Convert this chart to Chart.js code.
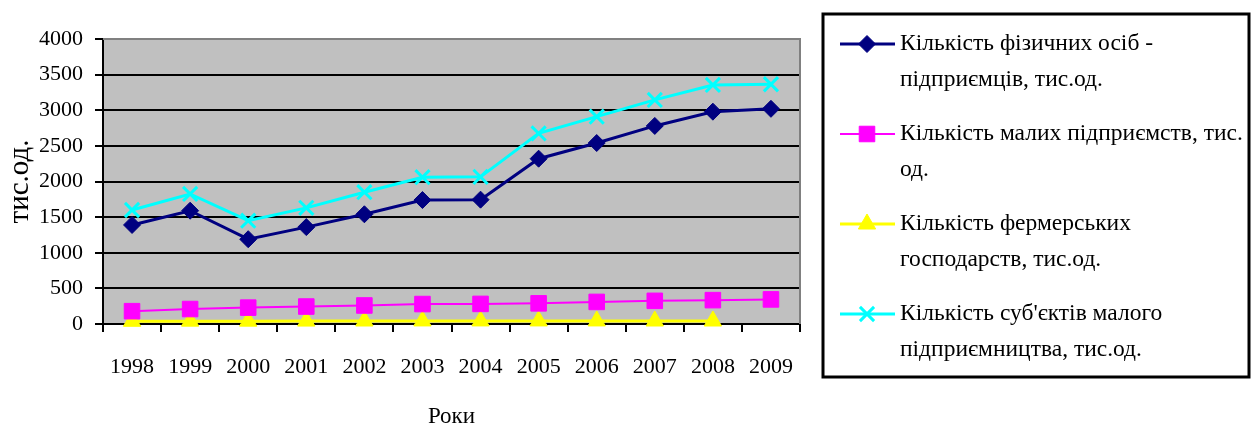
<!DOCTYPE html>
<html>
<head>
<meta charset="utf-8">
<script src="https://cdn.jsdelivr.net/npm/chart.js@4"></script>
<style>
  html, body { margin: 0; padding: 0; background: #fff; }
  #wrap { width: 1251px; height: 428px; }
</style>
</head>
<body>
<div id="wrap"><canvas id="chart" width="1251" height="428"></canvas></div>
<script>
// Data
const years = ["1998", "1999", "2000", "2001", "2002", "2003", "2004", "2005", "2006", "2007", "2008", "2009"];
const physicalPersons = [1390, 1590, 1190, 1360, 1540, 1740, 1745, 2320, 2540, 2780, 2980, 3020];
const smallEnterprises = [180, 210, 230, 245, 260, 280, 282, 290, 310, 325, 335, 345];
const farms = [38, 40, 40, 41, 42, 43, 43, 43, 43, 42, 42, null];
const smallBusiness = [1600, 1825, 1450, 1630, 1850, 2060, 2065, 2675, 2910, 3145, 3355, 3365];
const yTicks = [0, 500, 1000, 1500, 2000, 2500, 3000, 3500, 4000];

const legendLabels = [
  ["Кількість фізичних осіб -", "підприємців, тис.од."],
  ["Кількість малих підприємств, тис.", "од."],
  ["Кількість фермерських", "господарств, тис.од."],
  ["Кількість суб'єктів малого", "підприємництва, тис.од."]
];

const FONT = '"Liberation Serif", "Times New Roman", serif';
Chart.defaults.font.family = FONT;
Chart.defaults.font.size = 22;
Chart.defaults.color = "#000";

// gray plot background + gray top/right frame
const plotFrame = {
  id: "plotFrame",
  beforeDraw(chart) {
    const { ctx, chartArea: a } = chart;
    ctx.save();
    ctx.fillStyle = "#c0c0c0";
    ctx.fillRect(a.left, a.top, a.right - a.left, a.bottom - a.top);
    ctx.restore();
  },
  beforeDatasetsDraw(chart) {
    const { ctx, chartArea: a } = chart;
    ctx.save();
    ctx.strokeStyle = "#808080";
    ctx.lineWidth = 2;
    ctx.beginPath();
    ctx.moveTo(a.left, a.top);
    ctx.lineTo(a.right, a.top);
    ctx.lineTo(a.right, a.bottom);
    ctx.stroke();
    ctx.restore();
  }
};

// boxed legend with two-line labels
const boxLegend = {
  id: "boxLegend",
  afterDraw(chart) {
    const ctx = chart.ctx;
    ctx.save();
    ctx.strokeStyle = "#000";
    ctx.lineWidth = 3;
    ctx.strokeRect(823, 14, 426, 363);
    ctx.font = "23.5px " + FONT;
    ctx.textBaseline = "middle";
    ctx.textAlign = "left";
    chart.data.datasets.forEach(function (ds, i) {
      const y = 44 + i * 90;
      ctx.strokeStyle = ds.borderColor;
      ctx.lineWidth = ds.borderWidth;
      ctx.beginPath();
      ctx.moveTo(840, y);
      ctx.lineTo(895, y);
      ctx.stroke();
      ctx.fillStyle = ds.pointBackgroundColor;
      ctx.strokeStyle = ds.pointBorderColor;
      ctx.lineWidth = ds.pointBorderWidth;
      Chart.helpers.drawPoint(ctx, {
        pointStyle: ds.pointStyle,
        radius: ds.pointRadius,
        borderWidth: ds.pointBorderWidth,
        rotation: 0
      }, 867, y);
      ctx.fillStyle = "#000";
      ds.label.forEach(function (line, j) {
        ctx.fillText(line, 900, y + j * 36);
      });
    });
    ctx.restore();
  }
};

const ctx = document.getElementById("chart").getContext("2d");
new Chart(ctx, {
  type: "line",
  data: {
    labels: years,
    datasets: [
      {
        label: legendLabels[0],
        data: physicalPersons,
        borderColor: "#000080",
        backgroundColor: "#000080",
        pointBackgroundColor: "#000080",
        pointBorderColor: "#000080",
        pointStyle: "rectRot",
        pointRadius: 8.5,
        pointBorderWidth: 1,
        borderWidth: 3,
        tension: 0
      },
      {
        label: legendLabels[1],
        data: smallEnterprises,
        borderColor: "#ff00ff",
        backgroundColor: "#ff00ff",
        pointBackgroundColor: "#ff00ff",
        pointBorderColor: "#ff00ff",
        pointStyle: "rect",
        pointRadius: 11,
        pointBorderWidth: 1,
        borderWidth: 2,
        tension: 0
      },
      {
        label: legendLabels[2],
        data: farms,
        borderColor: "#ffff00",
        backgroundColor: "#ffff00",
        pointBackgroundColor: "#ffff00",
        pointBorderColor: "#ffff00",
        pointStyle: "triangle",
        pointRadius: 10,
        pointBorderWidth: 1,
        borderWidth: 3,
        tension: 0,
        clip: false
      },
      {
        label: legendLabels[3],
        data: smallBusiness,
        borderColor: "#00ffff",
        backgroundColor: "#00ffff",
        pointBackgroundColor: "#00ffff",
        pointBorderColor: "#00ffff",
        pointStyle: "crossRot",
        pointRadius: 10,
        pointBorderWidth: 3,
        borderWidth: 3,
        tension: 0
      }
    ]
  },
  options: {
    responsive: false,
    animation: false,
    layout: { padding: { left: 0, top: 39, right: 451, bottom: 0 } },
    plugins: {
      legend: { display: false },
      tooltip: { enabled: false }
    },
    scales: {
      x: {
        offset: true,
        grid: {
          offset: true,
          drawOnChartArea: false,
          tickLength: 8,
          color: "#000",
          lineWidth: 2
        },
        border: { color: "#000", width: 2 },
        ticks: { padding: 22, maxRotation: 0, font: { size: 22 } },
        title: {
          display: true,
          text: "Роки",
          font: { size: 23, lineHeight: 1 },
          padding: { top: 0, bottom: 0 }
        },
        afterFit: function (s) { s.height = 104; }
      },
      y: {
        min: 0,
        max: 4000,
        afterBuildTicks: function (s) {
          s.ticks = yTicks.map(function (v) { return { value: v }; });
        },
        grid: {
          color: function (c) { return c.tick && c.tick.value === 4000 ? "rgba(0,0,0,0)" : "#000"; },
          tickColor: "#000",
          lineWidth: 2,
          tickLength: 8
        },
        border: { color: "#000", width: 2 },
        ticks: {
          padding: 12,
          font: { size: 22 },
          callback: function (v) { return String(v); }
        },
        title: {
          display: true,
          text: "тис.од.",
          font: { size: 29, lineHeight: 1 },
          padding: { top: 6, bottom: 0 }
        },
        afterFit: function (s) { s.width = 103; }
      }
    }
  },
  plugins: [plotFrame, boxLegend]
});
</script>
</body>
</html>
